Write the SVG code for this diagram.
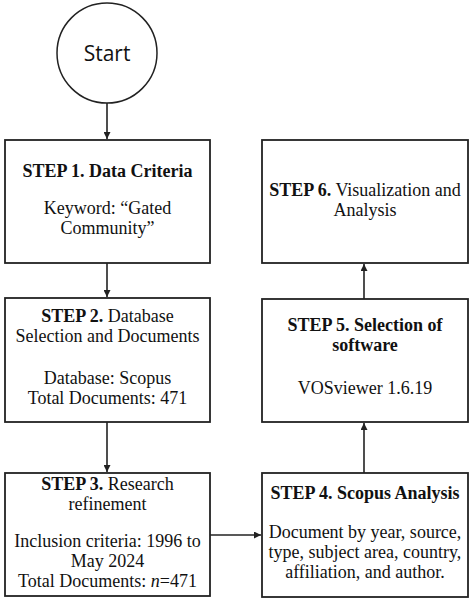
<svg xmlns="http://www.w3.org/2000/svg" width="471" height="602" viewBox="0 0 471 602">
<style>
.box{fill:#fff;stroke:#222;stroke-width:1.8}
.b{font-weight:bold}
.c{stroke:#222;stroke-width:1.6;fill:none}
</style>
<defs>
<marker id="ah" viewBox="0 0 10 10" refX="10" refY="5" markerWidth="7" markerHeight="7" markerUnits="userSpaceOnUse" orient="auto">
<path d="M0,0 L10,5 L0,10 z" fill="#222"/>
</marker>
</defs>
<rect width="471" height="602" fill="#fff"/>
<g id="connectors">
<line class="c" x1="107" y1="103" x2="107" y2="139" marker-end="url(#ah)"/>
<line class="c" x1="107" y1="263" x2="107" y2="297" marker-end="url(#ah)"/>
<line class="c" x1="107" y1="422" x2="107" y2="472" marker-end="url(#ah)"/>
<line class="c" x1="210" y1="535" x2="261" y2="535" marker-end="url(#ah)"/>
<line class="c" x1="364" y1="473" x2="364" y2="423" marker-end="url(#ah)"/>
<line class="c" x1="364" y1="299" x2="364" y2="264" marker-end="url(#ah)"/>
</g>
<g id="start">
<circle cx="107" cy="53" r="50" fill="#fff" stroke="#222" stroke-width="1.5"/>
<text x="107" y="61" font-family="Open Sans, Liberation Sans, sans-serif" font-size="21" fill="#111" text-anchor="middle">Start</text>
</g>
<g id="nodes" font-family="Liberation Serif" font-size="18" fill="#111" text-anchor="middle">
<g id="step1">
<rect class="box" x="5" y="140" width="205" height="123"/>
<text class="b" x="107.5" y="177">STEP 1. Data Criteria</text>
<text x="107.5" y="214">Keyword: “Gated</text>
<text x="107.5" y="234">Community”</text>
</g>
<g id="step2">
<rect class="box" x="5" y="298" width="205" height="124"/>
<text x="107.5" y="322"><tspan class="b">STEP 2.</tspan> Database</text>
<text x="107.5" y="342">Selection and Documents</text>
<text x="107.5" y="384">Database: Scopus</text>
<text x="107.5" y="404">Total Documents: 471</text>
</g>
<g id="step3">
<rect class="box" x="5" y="473" width="205" height="123"/>
<text x="107.5" y="490"><tspan class="b">STEP 3.</tspan> Research</text>
<text x="107.5" y="510">refinement</text>
<text x="107.5" y="547">Inclusion criteria: 1996 to</text>
<text x="107.5" y="567">May 2024</text>
<text x="107.5" y="587">Total Documents: <tspan font-style="italic">n</tspan>=471</text>
</g>
<g id="step4">
<rect class="box" x="262" y="473" width="206" height="124"/>
<text class="b" x="365" y="499">STEP 4. Scopus Analysis</text>
<text x="365" y="538">Document by year, source,</text>
<text x="365" y="558">type, subject area, country,</text>
<text x="365" y="578">affiliation, and author.</text>
</g>
<g id="step5">
<rect class="box" x="262" y="299" width="206" height="123"/>
<text class="b" x="365" y="331">STEP 5. Selection of</text>
<text class="b" x="365" y="351">software</text>
<text x="365" y="394">VOSviewer 1.6.19</text>
</g>
<g id="step6">
<rect class="box" x="262" y="140" width="206" height="123"/>
<text x="365" y="196"><tspan class="b">STEP 6.</tspan> Visualization and</text>
<text x="365" y="216">Analysis</text>
</g>
</g>
</svg>
